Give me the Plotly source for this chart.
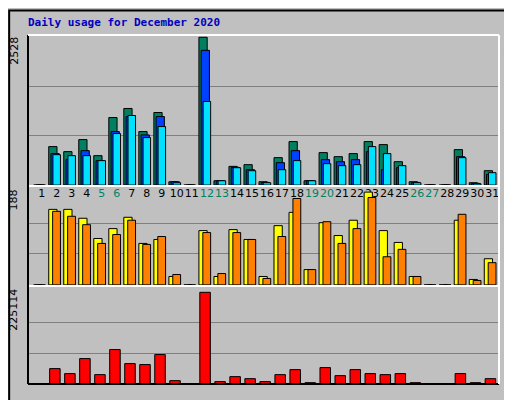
import plotly.graph_objects as go

days = list(range(1, 32))
hits = [0,658,572,778,503,1155,1310,915,1241,57,0,2528,74,320,349,57,469,744,74,555,486,538,744,692,400,57,0,0,606,40,246]
files = [0,538,440,589,418,915,1172,858,1172,57,0,2305,74,303,263,46,383,589,74,435,400,435,572,263,297,46,0,0,486,29,183]
pages = [0,520,503,503,418,881,1190,812,1001,40,0,1430,74,297,246,40,263,418,74,366,332,349,658,538,332,40,0,0,469,23,212]
visits = [0,153,153,135,94,114,137,84,92,17,0,110,17,112,92,17,120,147,31,126,100,131,188,110,86,17,0,0,131,11,53]
sites = [0,149,139,122,84,102,131,82,98,21,0,106,23,106,92,13,98,175,31,128,84,114,177,57,72,17,0,0,143,9,45]
kbytes = [0,37800,25500,62400,23000,84600,50100,47700,72300,8200,0,225114,5800,18100,13100,5800,23000,35300,3300,40300,20500,35300,25500,23000,25500,3300,0,0,25500,3300,13100]
weekends = [5,6,12,13,19,20,26,27]

fig = go.Figure()
line = dict(color="black", width=1)
def bar(y, color, off, w, ax):
    fig.add_trace(go.Bar(x=days, y=y, offset=off, width=w, marker=dict(color=color, line=line),
                         xaxis="x", yaxis=ax, showlegend=False, hoverinfo="skip"))
bar(hits, "#008060", -0.53, 0.55, "y")
bar(files, "#0040ff", -0.38, 0.55, "y")
bar(pages, "#00e0ff", -0.25, 0.5, "y")
bar(visits, "#ffff00", -0.53, 0.55, "y2")
bar(sites, "#ff8000", -0.27, 0.52, "y2")
bar(kbytes, "#ff0000", -0.47, 0.7, "y3")

ticktext = [f"<span style='color:#008060'>{d}</span>" if d in weekends else str(d) for d in days]
yc = dict(showticklabels=False, gridcolor="#808080", gridwidth=1, zeroline=False, fixedrange=True)
fig.update_layout(
    width=512, height=400, margin=dict(l=20, r=21, t=27, b=24),
    paper_bgcolor="#c0c0c0", plot_bgcolor="#c0c0c0", barmode="overlay",
    font=dict(family="DejaVu Sans", size=11, color="black"),
    xaxis=dict(range=[0.09, 31.45], tickvals=days, ticktext=ticktext, showgrid=False, tickangle=0,
               automargin=False, zeroline=False, ticks="", tickfont=dict(size=11, family="DejaVu Sans")),
    yaxis=dict(domain=[0.570, 1], range=[0, 2567], tickvals=[843, 1685], **yc),
    yaxis2=dict(domain=[0.284, 0.564], range=[0, 198], tickvals=[62.7, 125.3], **yc),
    yaxis3=dict(domain=[0, 0.278], range=[0, 238170], tickvals=[75038, 150076], **yc),
)
shapes = []
shapes.append(dict(type="rect", xref="paper", yref="paper", x0=-0.04, x1=1.04, y0=-0.068, y1=1.07,
                   line=dict(color="black", width=2)))
for y in [0.567, 0.281]:
    shapes.append(dict(type="line", xref="paper", yref="paper", x0=0, x1=1, y0=y, y1=y,
                       line=dict(color="white", width=2)))
shapes.append(dict(type="line", xref="paper", yref="paper", x0=0, x1=1, y0=0, y1=0, line=dict(color="black", width=2)))
shapes.append(dict(type="line", xref="paper", yref="paper", x0=0, x1=0, y0=0, y1=1, line=dict(color="black", width=2)))
shapes.append(dict(type="line", xref="paper", yref="paper", x0=1, x1=1, y0=0, y1=1, line=dict(color="white", width=2)))
shapes.append(dict(type="line", xref="paper", yref="paper", x0=0, x1=1, y0=1, y1=1, line=dict(color="white", width=2)))
fig.update_layout(shapes=shapes)

mono = dict(family="DejaVu Sans Mono", size=11)
fig.add_annotation(text="<b>Daily usage for December 2020</b>", xref="paper", yref="paper",
                   x=-0.005, y=1.035, xanchor="left", yanchor="middle", showarrow=False,
                   font=dict(family="DejaVu Sans Mono", size=11, color="#0000c0"))
for txt, y in [("2528", 1.0), ("188", 0.564), ("225114", 0.278)]:
    fig.add_annotation(text=txt, xref="paper", yref="paper", x=-0.012, y=y, xanchor="right",
                       yanchor="top", textangle=-90, showarrow=False, font=dict(size=11))
right = [
    ("<b><span style='color:#00e0ff'>Pages</span> / <span style='color:#0040ff'>Files</span> / <span style='color:#008060'>Hits</span></b>", 0.995),
    ("<b><span style='color:#ff8000'>Sites</span> / <span style='color:#ffff00'>Visits</span></b>", 0.56),
    ("<b><span style='color:#ff0000'>KBytes</span></b>", 0.10),
]
for txt, y in right:
    fig.add_annotation(text=txt, xref="paper", yref="paper", x=1.021, y=y, xanchor="center",
                       yanchor="top" if y > 0.2 else "bottom", textangle=-90, showarrow=False,
                       font=mono, borderpad=0)
fig.write_html("out.html")
